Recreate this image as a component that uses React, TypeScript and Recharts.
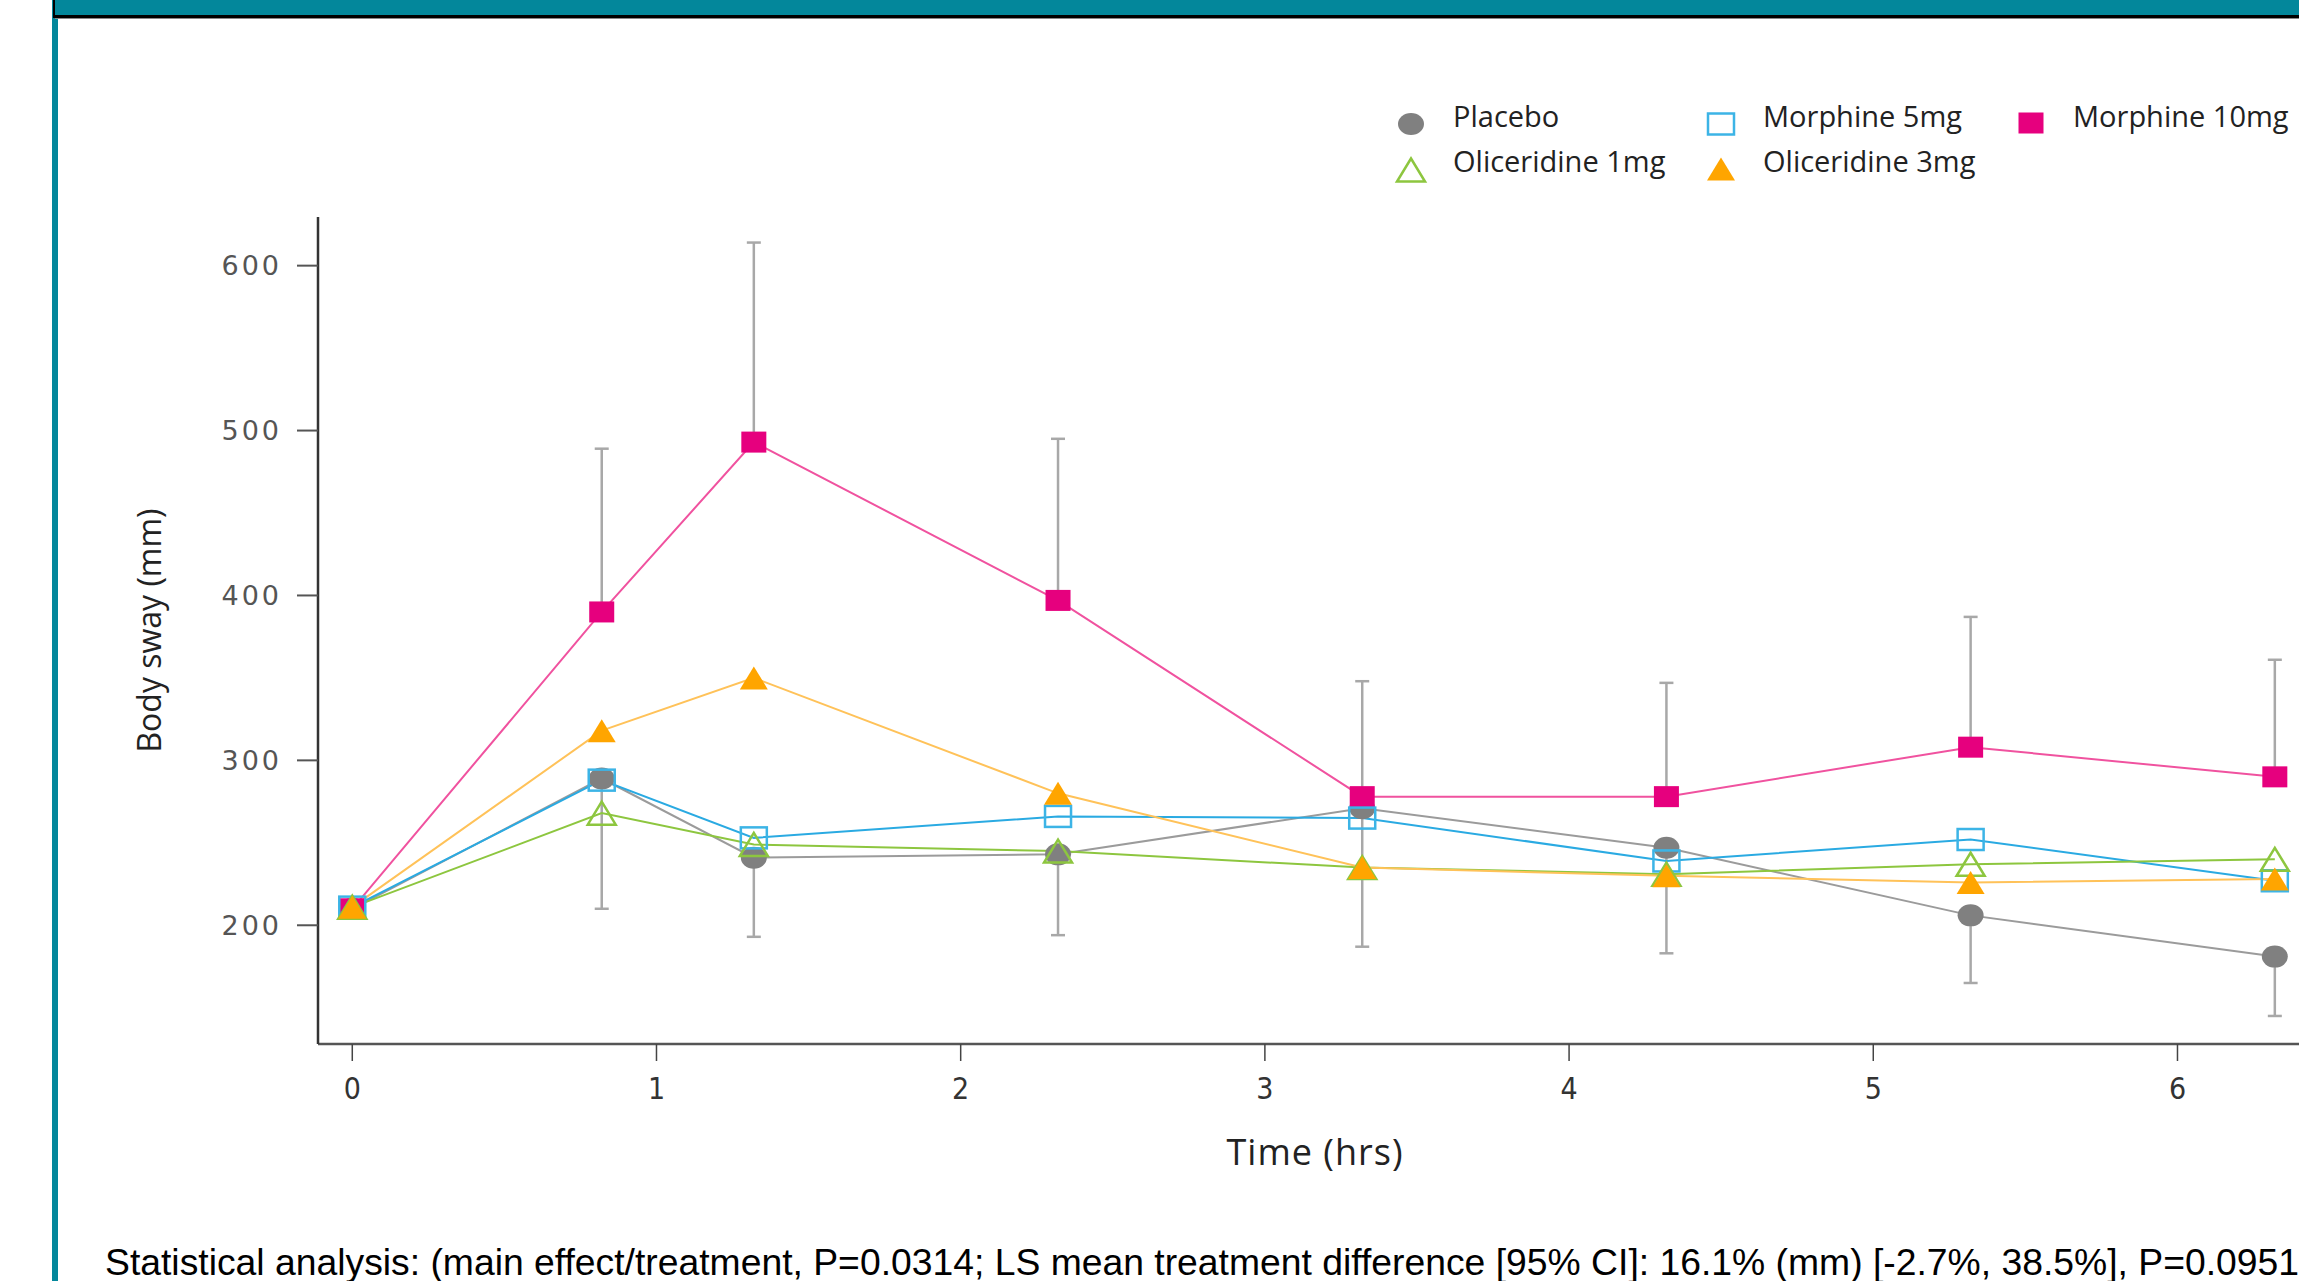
import { LineChart, Line, XAxis, YAxis, ErrorBar, Legend } from 'recharts'

// time points (hrs)
const times = [0, 0.82, 1.32, 2.32, 3.32, 4.32, 5.32, 6.32]

const placebo = [210, 289, 241, 243, 271, 247, 206, 181]
const morphine5 = [211, 288, 253, 266, 265, 239, 252, 227]
const morphine10 = [210, 390, 493, 397, 278, 278, 308, 290]
const oliceridine1 = [211, 268, 249, 245, 235, 231, 237, 240]
const oliceridine3 = [211, 318, 350, 280, 235, 230, 226, 228]

// error bar ends: upper for Morphine 10mg, lower for Placebo
const morphine10Upper = [null, 489, 614, 495, 348, 347, 387, 361]
const placeboLower = [null, 210, 193, 194, 187, 183, 165, 145]

const xTicks = [0, 1, 2, 3, 4, 5, 6]
const yTicks = [200, 300, 400, 500, 600]

const data = times.map((t, i) => ({
  t,
  placebo: placebo[i],
  morphine5: morphine5[i],
  morphine10: morphine10[i],
  oliceridine1: oliceridine1[i],
  oliceridine3: oliceridine3[i],
  m10Err: morphine10Upper[i] == null ? [0, 0] : [0, morphine10Upper[i] - morphine10[i]],
  plErr: placeboLower[i] == null ? [0, 0] : [placebo[i] - placeboLower[i], 0],
}))

type Kind = 'circle' | 'squareOpen' | 'squareFilled' | 'triOpen' | 'triFilled'

const series = [
  { key: 'placebo', name: 'Placebo', kind: 'circle' as Kind, color: '#808080', line: '#9b9b9b' },
  { key: 'morphine10', name: 'Morphine 10mg', kind: 'squareFilled' as Kind, color: '#e6007e', line: '#f0529f' },
  { key: 'morphine5', name: 'Morphine 5mg', kind: 'squareOpen' as Kind, color: '#3cb4e6', line: '#2aaae2' },
  { key: 'oliceridine1', name: 'Oliceridine 1mg', kind: 'triOpen' as Kind, color: '#8dc63f', line: '#8dc63f' },
  { key: 'oliceridine3', name: 'Oliceridine 3mg', kind: 'triFilled' as Kind, color: '#ffa500', line: '#ffc259' },
]

function Marker({ kind, color, cx, cy }: { kind: Kind; color: string; cx: number; cy: number }) {
  if (kind === 'circle') return <ellipse cx={cx} cy={cy} rx={13} ry={11} fill={color} />
  if (kind === 'squareFilled') return <rect x={cx - 12.5} y={cy - 10.5} width={25} height={21} fill={color} />
  if (kind === 'squareOpen')
    return <rect x={cx - 13} y={cy - 10.5} width={26} height={21} fill="none" stroke={color} strokeWidth={2.5} />
  const w = 28
  const h = 23
  const pts = `${cx},${cy - h / 2} ${cx + w / 2},${cy + h / 2} ${cx - w / 2},${cy + h / 2}`
  if (kind === 'triOpen') return <polygon points={pts} fill="none" stroke={color} strokeWidth={2.5} />
  return <polygon points={pts} fill={color} />
}

const legendPos: Record<string, { x: number; y: number }> = {
  placebo: { x: 1411, y: 124 },
  morphine5: { x: 1721, y: 124 },
  morphine10: { x: 2031, y: 123 },
  oliceridine1: { x: 1411, y: 170 },
  oliceridine3: { x: 1721, y: 169 },
}

const legendTextTop: Record<string, number> = {
  placebo: 97,
  morphine5: 97,
  morphine10: 97,
  oliceridine1: 142,
  oliceridine3: 142,
}

function ChartLegend() {
  return (
    <div style={{ position: 'relative', width: 0, height: 0 }}>
      {series.map((s) => {
        const p = legendPos[s.key]
        return (
          <div key={s.key}>
            <svg width={40} height={40} style={{ position: 'absolute', left: p.x - 20, top: p.y - 20 }}>
              <Marker kind={s.kind} color={s.color} cx={20} cy={20} />
            </svg>
            <span
              style={{
                position: 'absolute',
                left: p.x + 42,
                top: legendTextTop[s.key],
                fontFamily: '"Open Sans", sans-serif',
                fontSize: 29,
                lineHeight: '38px',
                color: '#222',
                whiteSpace: 'nowrap',
              }}
            >
              {s.name}
            </span>
          </div>
        )
      })}
    </div>
  )
}

export default function App() {
  return (
    <div
      style={{
        position: 'absolute',
        left: 0,
        top: 0,
        width: 2299,
        height: 1281,
        overflow: 'hidden',
        background: '#ffffff',
      }}
    >
      {/* header strip and left rule */}
      <div style={{ position: 'absolute', left: 52, top: 0, width: 6, height: 1281, background: '#03879b' }} />
      <div
        style={{
          position: 'absolute',
          left: 53,
          top: 0,
          width: 2260,
          height: 15,
          background: '#03879b',
          borderLeft: '2px solid #000',
          borderBottom: '3px solid #000',
        }}
      />
      <div style={{ position: 'absolute', left: 55, top: 18, width: 2260, height: 1, background: '#888' }} />

      <div style={{ position: 'absolute', left: 0, top: 0 }}>
        <LineChart width={2400} height={1281} data={data} margin={{ top: 217, right: 40, left: 218, bottom: 137 }}>
          <XAxis
            dataKey="t"
            type="number"
            domain={[-0.1127, 6.6]}
            ticks={xTicks}
            allowDataOverflow
            height={100}
            tickSize={17}
            tickMargin={17}
            axisLine={{ stroke: '#555', strokeWidth: 2.5 }}
            tickLine={{ stroke: '#444', strokeWidth: 1.5 }}
            tick={{ fill: '#333', fontSize: 30, fontFamily: '"Liberation Sans Narrow", "DejaVu Sans Condensed", sans-serif' }}
            label={{
              value: 'Time (hrs)',
              position: 'bottom',
              offset: -5,
              dx: -24,
              style: { fill: '#222', fontSize: 36, letterSpacing: 1, fontFamily: '"Open Sans", sans-serif' },
            }}
          />
          <YAxis
            type="number"
            domain={[128, 629.5]}
            ticks={yTicks}
            allowDataOverflow
            width={100}
            tickSize={21}
            tickMargin={15}
            axisLine={{ stroke: '#333', strokeWidth: 2.5 }}
            tickLine={{ stroke: '#555', strokeWidth: 2 }}
            tick={{ fill: '#555', fontSize: 27, letterSpacing: 3, fontFamily: '"DejaVu Sans", sans-serif' }}
            label={{
              value: 'Body sway (mm)',
              angle: -90,
              position: 'left',
              offset: 68,
              style: { fill: '#222', fontSize: 32, textAnchor: 'middle', fontFamily: '"Open Sans", sans-serif' },
            }}
          />
          <Legend layout="horizontal" verticalAlign="middle" align="center" wrapperStyle={{ left: 0, top: 0 }} content={() => <ChartLegend />} />
          {series.map((s) => (
            <Line
              key={s.key}
              dataKey={s.key}
              name={s.name}
              stroke={s.line}
              strokeWidth={2}
              isAnimationActive={false}
              dot={(p: any) => <Marker key={`${s.key}-${p.index}`} kind={s.kind} color={s.color} cx={p.cx} cy={p.cy} />}
              activeDot={false}
            >
              {s.key === 'morphine10' && (
                <ErrorBar dataKey="m10Err" direction="y" width={7} stroke="#a8a8a8" strokeWidth={2.5} />
              )}
              {s.key === 'placebo' && <ErrorBar dataKey="plErr" direction="y" width={7} stroke="#a8a8a8" strokeWidth={2.5} />}
            </Line>
          ))}
        </LineChart>
      </div>

      <div
        style={{
          position: 'absolute',
          left: 105,
          top: 1244,
          fontFamily: '"Liberation Sans", Arial, sans-serif',
          fontSize: 37.3,
          lineHeight: '37px',
          color: '#000',
          whiteSpace: 'nowrap',
        }}
      >
        Statistical analysis: (main effect/treatment, P=0.0314; LS mean treatment difference [95% CI]: 16.1% (mm) [-2.7%,
        38.5%], P=0.0951
      </div>
    </div>
  )
}
